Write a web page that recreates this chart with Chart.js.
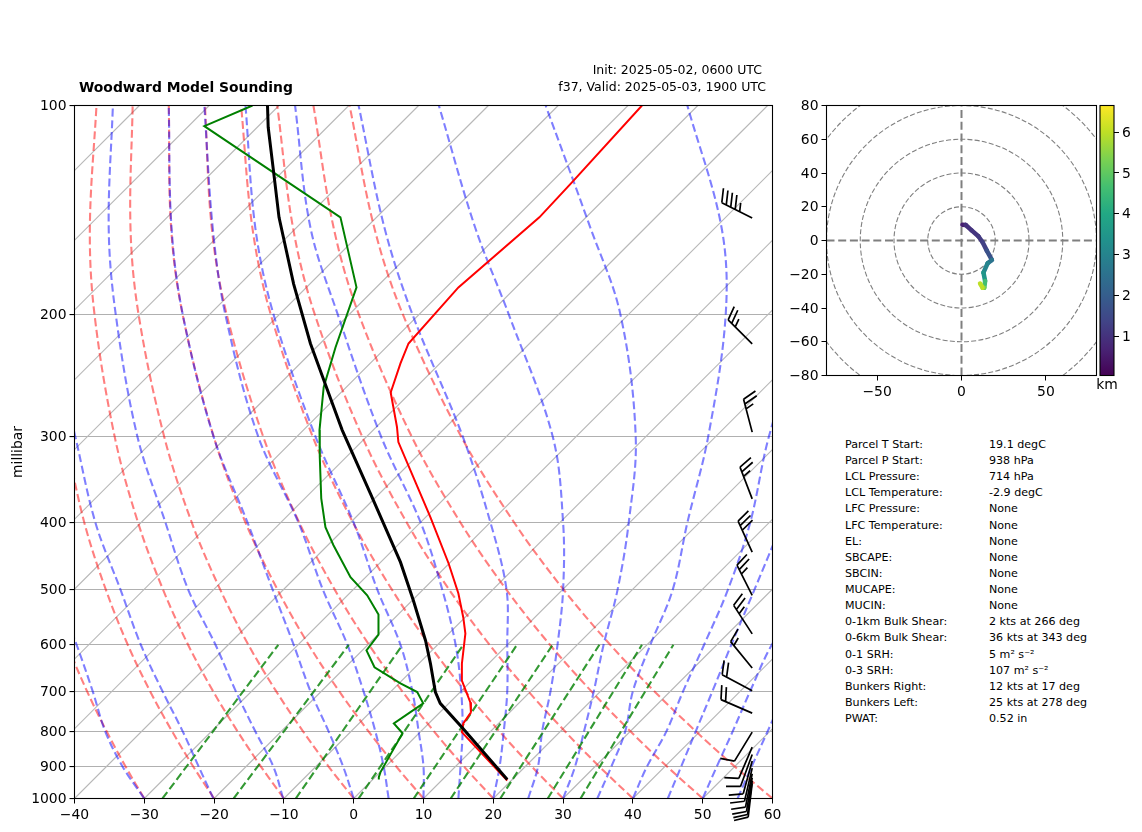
<!DOCTYPE html>
<html><head><meta charset="utf-8">
<script src="https://cdn.jsdelivr.net/npm/chart.js@4"></script>
<style>
html,body{margin:0;padding:0;background:#fff;width:1142px;height:832px;overflow:hidden;font-family:"DejaVu Sans",sans-serif;color:#000}
canvas{position:absolute}
.t{position:absolute;white-space:nowrap}
#title{left:79px;top:77px;line-height:20px;font-size:13.9px;font-weight:bold}
#init,#valid{line-height:18px;font-size:12.5px;text-align:right}
#init{top:61px;right:380px}#valid{top:78px;right:376px}
.row{position:absolute;font-size:11.1px;line-height:16px;white-space:nowrap}
</style></head><body>
<canvas id="skew" style="left:0;top:0;width:790px;height:832px"></canvas>
<canvas id="hodo" style="left:780px;top:0;width:320px;height:410px"></canvas>
<canvas id="cbar" style="left:1080px;top:0;width:62px;height:400px"></canvas>
<div class="t" id="title"></div><div class="t" id="init"></div><div class="t" id="valid"></div>
<div id="stats"></div>
<script>
// ---------- text ----------
const chartTitle = "Woodward Model Sounding";
const initText = "Init: 2025-05-02, 0600 UTC";
const validText = "f37, Valid: 2025-05-03, 1900 UTC";
const statLabels = ["Parcel T Start:","Parcel P Start:","LCL Pressure:","LCL Temperature:","LFC Pressure:","LFC Temperature:","EL:","SBCAPE:","SBCIN:","MUCAPE:","MUCIN:","0-1km Bulk Shear:","0-6km Bulk Shear:","0-1 SRH:","0-3 SRH:","Bunkers Right:","Bunkers Left:","PWAT:"];
const statValues = ["19.1 degC","938 hPa","714 hPa","-2.9 degC","None","None","None","None","None","None","None","2 kts at 266 deg","36 kts at 343 deg","5 m\u00B2 s\u207B\u00B2","107 m\u00B2 s\u207B\u00B2","12 kts at 17 deg","25 kts at 278 deg","0.52 in"];

// ---------- axes ----------
const xTicks = [-40,-30,-20,-10,0,10,20,30,40,50,60];
const pressureTicks = [100,200,300,400,500,600,700,800,900,1000];
const hodoXTicks = [-50,0,50];
const hodoYTicks = [-80,-60,-40,-20,0,20,40,60,80];
const colorbarTicks = [1,2,3,4,5,6];

// ---------- sounding (x on the skewed axis, pressure in hPa) ----------
const tempX = [41.3,31.3,26.6,15.0,7.85,6.7,5.3,6.2,6.4,11.0,13.6,15.0,15.7,16.0,15.5,15.5,16.7,16.8,15.7,15.5,18.2,22.0];
const tempP = [100,129,145,183,220.5,235.6,259.5,291,306,393,458,506,548,578,639,676,726,751,779,802,858,942];
const dewX = [-14.5,-21.4,-1.9,0.4,-2.6,-4.3,-4.9,-4.86,-4.65,-4.05,-2.9,-0.46,1.93,3.55,3.55,1.83,2.98,6.7,9.1,9.96,5.75,7.0,3.84,3.6,3.6];
const dewP = [100,107.1,145,183,223.3,255,294,321.7,369,406,431,479.5,509,542.6,580,611.5,646.6,682,702,729,779,805,916,931.6,939];
const parcelX = [-12.35,-12.25,-11.45,-10.7,-8.6,-6.2,-4.0,-1.65,2.4,6.7,8.55,10.3,11,11.7,12.4,15.5,22];
const parcelP = [100,107.5,125.3,145,181,220.5,253.6,294,363,456,518,592,639,702,729,789,939];

// ---------- background lines ----------
const isothermBottomX = [-130,-120,-110,-100,-90,-80,-70,-60,-50,-40,-30,-20,-10,0,10,20,30,40,50,60];
const isothermTopX = [-30.7,-20.7,-10.7,-0.7,9.3,19.3,29.3,39.3,49.3,59.3,69.3,79.3,89.3,99.3,109.3,119.3,129.3,139.3,149.3,159.3];
const levelP = [1000,900,800,700,600,500,400,300,200,150,100];
const dryAdiabats = [
 [-30,-32.67,-35.4,-38.21,-41.01,-43.7],
 [-20,-22.97,-26.02,-29.18,-32.37,-35.5,-38.59,-41.35],
 [-10,-13.27,-16.64,-20.15,-23.73,-27.3,-30.89,-34.26,-37.14,-37.8,-36.85],
 [0,-3.57,-7.26,-11.12,-15.09,-19.1,-23.19,-27.17,-30.83,-31.98,-31.67],
 [10,6.13,2.12,-2.09,-6.45,-10.9,-15.49,-20.08,-24.52,-26.16,-26.49],
 [20,15.83,11.5,6.94,2.19,-2.7,-7.79,-12.99,-18.21,-20.34,-21.31],
 [30,25.53,20.88,15.97,10.83,5.5,-0.09,-5.9,-11.9,-14.52,-16.13],
 [40,35.23,30.26,25,19.47,13.7,7.61,1.19,-5.59,-8.7,-10.95],
 [50,44.93,39.64,34.03,28.11,21.9,15.31,8.28,0.72,-2.88,-5.77],
 [60,54.63,49.02,43.06,36.75,30.1,23.01,15.37,7.03,2.94,-0.59]
];
const moistAdiabats = [
 [-30,-33.1,-35.6,-37.4,-39.7,-42.7],
 [-20.1,-22.2,-24.5,-27.4,-30.5,-33.4,-37,-39.9,-44],
 [-10.1,-11.5,-14.1,-16.9,-19.8,-23.7,-26.96,-31,-34.1,-35.1,-34.5],
 [0,-1.5,-3.6,-6.2,-8.6,-11.6,-15.2,-20.1,-24.5,-26.1,-26.5],
 [5,4.3,3.1,1.4,-0.9,-4.4,-7.9,-13.7,-18.4,-20.2,-21.4],
 [10,10,9.3,8.4,6.7,3.4,0,-5.5,-11.5,-14.1,-15.5],
 [15,15.3,15.6,15.4,14.6,12.7,9.6,3.9,-2.3,-6.2,-8.4],
 [20,20.9,21.5,22.0,22.0,21.9,19.6,15.6,8.4,4.4,0.7],
 [25,26.4,27,28.2,29.2,30,30,28.5,22.2,17.4,12.2],
 [30,31.7,33,34.4,35.8,37.8,39.4,40.4,38.2,33.9,27.5],
 [34.9,36.9,38.9,40,42.5,45.7,47.8,50.8,53.3,52.7,47.8],
 [40,42,44.8,47.2,50.2,53.6,56.8,59.5,65],
 [45,46.9,49,51.4,54.1,57.4,61.4],
 [50,52,54.3,56.8,59.9,65],
 [55,57,59.3,61.9]
];
const mixBottomX = [-27.4,-17.2,-8.3,0.7,8.6,13.9,21,27.8,32.5];
const mixTopX = [-10.8,-0.7,7,15.7,23.4,28.5,35.2,41.3,45.8];
const mixBottomP = 1000, mixTopP = 600;

// ---------- wind barbs ----------
const barbAxisX = 57.09;
const barbP = [145.3,220.8,296,369.5,441,509.4,578.7,648,698.8,753,802,843,864,883,904,921,934,943,951];
const barbDir = [296.7,315,345.3,339,335.5,333.4,327,320.7,298,293.4,211.4,203.2,200.1,195.3,193.1,191.4,189.7,187.9,186.8];
const barbKts = [45,25,25,25,30,25,25,15,20,20,10,10,10,10,10,10,10,10,10];

// ---------- hodograph ----------
const hodoU = [0.5,2.5,6,10,12.5,15,18,15.5,13,14,13.5,12.5,11];
const hodoV = [9.3,9.2,6,2.5,-1,-6,-11.5,-13.5,-19,-24,-28,-28,-25.5];
const hodoKm = [0.1,0.6,0.95,1.05,1.15,1.3,1.7,2.6,3,3.5,4.6,5.3,6.0];
const ringRadii = [20,40,60,80,100];
const colorbarRange = [0.04,6.65];
const viridisStops = ["#440154","#482475","#414487","#355f8d","#2a788e","#21918c","#22a884","#44bf70","#7ad151","#bddf26","#fde725"];

// ---------- page text ----------
document.getElementById('title').textContent = chartTitle;
document.getElementById('init').textContent = initText;
document.getElementById('valid').textContent = validText;
const statsEl = document.getElementById('stats');
statLabels.forEach((s,i)=>{
  const top = 437 + i*16.12;
  statsEl.insertAdjacentHTML('beforeend',
   `<div class="row" style="left:845px;top:${top}px">${s}</div><div class="row" style="left:989px;top:${top}px">${statValues[i]}</div>`);
});

// ---------- helpers ----------
Chart.defaults.font.family = '"DejaVu Sans", sans-serif';
Chart.defaults.font.size = 13.9;
Chart.defaults.color = '#000';
Chart.defaults.animation = false;
Chart.defaults.devicePixelRatio = 1;
const minus = v => String(v).replace('-', '\u2212');
const hexToRgb = h => [1,3,5].map(i=>parseInt(h.slice(i,i+2),16));
function viridis(t){
  t = Math.min(1,Math.max(0,t))*(viridisStops.length-1);
  const i = Math.min(Math.floor(t),viridisStops.length-2), f = t-i;
  const a = hexToRgb(viridisStops[i]), b = hexToRgb(viridisStops[i+1]);
  return `rgb(${a.map((v,k)=>Math.round(v+(b[k]-v)*f)).join(',')})`;
}
const kmColor = km => viridis((km-colorbarRange[0])/(colorbarRange[1]-colorbarRange[0]));
const pairs = (xs,ps) => xs.map((x,i)=>({x,y:ps[i]}));
const framePlugin = {id:'frame',afterDraw(c){
  const a=c.chartArea,g=c.ctx;g.save();g.strokeStyle='#000';g.lineWidth=1.1;
  g.strokeRect(a.left,a.top,a.right-a.left,a.bottom-a.top);g.restore();}};
const barbPlugin = {id:'barbs',afterDraw(c){
  const g=c.ctx,xs=c.scales.x,ys=c.scales.y;
  const staff=34,step=5,perp=13.6,along=5;
  g.save();g.strokeStyle='#000';g.lineWidth=1.7;g.lineCap='butt';
  barbP.forEach((p,i)=>{
    const tx=xs.getPixelForValue(barbAxisX),ty=ys.getPixelForValue(p);
    const a=barbDir[i]*Math.PI/180,dx=Math.sin(a),dy=-Math.cos(a);
    const hx=tx+dx*staff,hy=ty+dy*staff;
    g.beginPath();g.moveTo(tx,ty);g.lineTo(hx,hy);
    let kts=barbKts[i],s=0;
    const fe=(scale)=>{
      const bx=hx-dx*s,by=hy-dy*s;
      g.moveTo(bx,by);
      g.lineTo(bx+(-dy)*perp*scale+dx*along*scale,by+dx*perp*scale+dy*along*scale);
      s+=step;
    };
    while(kts>=10){fe(1);kts-=10;}
    if(kts>=5){fe(0.6);}
    g.stroke();
  });
  g.restore();}};
const ringPlugin = {id:'rings',beforeDatasetsDraw(c){
  const g=c.ctx,a=c.chartArea,xs=c.scales.x,ys=c.scales.y;
  g.save();g.beginPath();g.rect(a.left,a.top,a.right-a.left,a.bottom-a.top);g.clip();
  g.strokeStyle='#7f7f7f';g.lineWidth=1.1;g.setLineDash([5,2.2]);
  ringRadii.forEach(r=>{
    const R=xs.getPixelForValue(r)-xs.getPixelForValue(0);
    g.beginPath();g.arc(xs.getPixelForValue(0),ys.getPixelForValue(0),R,0,Math.PI*2);g.stroke();
  });
  g.restore();}};

// ---------- skew-T ----------
const sets = [];
const addLine = (data,color,width,dash,order,tension=0)=>sets.push({data,borderColor:color,borderWidth:width,borderDash:dash,order,tension,showLine:true,pointRadius:0,fill:false});
isothermBottomX.forEach((x,i)=>addLine([{x,y:1000},{x:isothermTopX[i],y:100}],'#b8b8b8',1.1,[],60));
dryAdiabats.forEach(a=>addLine(pairs(a,levelP),'rgba(255,0,0,0.5)',2.1,[8,3.7],50,0.35));
moistAdiabats.forEach(a=>addLine(pairs(a,levelP),'rgba(0,0,255,0.5)',2.1,[8,3.7],40,0.35));
mixBottomX.forEach((x,i)=>addLine([{x,y:mixBottomP},{x:mixTopX[i],y:mixTopP}],'rgba(0,128,0,0.8)',2.1,[8,3.7],30));
addLine(pairs(tempX,tempP),'#ff0000',2,[],3);
addLine(pairs(dewX,dewP),'#008000',2,[],2);
addLine(pairs(parcelX,parcelP),'#000',3,[],1);

new Chart(document.getElementById('skew'),{
  type:'scatter',
  data:{datasets:sets},
  plugins:[framePlugin,barbPlugin],
  options:{responsive:false,
    layout:{padding:{left:0,top:105.5,right:17.5,bottom:0}},
    plugins:{legend:{display:false},tooltip:{enabled:false}},
    scales:{
      x:{type:'linear',min:-40,max:60,
        afterBuildTicks:s=>{s.ticks=xTicks.map(value=>({value}));},
        afterFit:s=>{s.height=33.5;},
        grid:{drawOnChartArea:false,color:'#000',tickColor:'#000',tickLength:5,lineWidth:1},
        border:{display:false},
        ticks:{maxRotation:0,autoSkip:false,padding:3.5,callback:v=>minus(v),color:'#000'}},
      y:{type:'logarithmic',reverse:true,min:100,max:1000,
        afterBuildTicks:s=>{s.ticks=pressureTicks.map(value=>({value}));},
        afterFit:s=>{s.width=74.5;},
        grid:{color:'#b0b0b0',tickColor:'#000',tickLength:5,lineWidth:1.1},
        border:{display:false},
        title:{display:true,text:'millibar',color:'#000',font:{size:13.9},padding:{top:10,bottom:0}},
        ticks:{autoSkip:false,padding:3,labelOffset:1,callback:v=>String(v),color:'#000'}}
    }}
});

// ---------- hodograph ----------
const axisLine = (pts)=>({data:pts,borderColor:'#7f7f7f',borderWidth:2,borderDash:[8,3.7],showLine:true,pointRadius:0,order:5});
new Chart(document.getElementById('hodo'),{
  type:'scatter',
  data:{datasets:[
    axisLine([{x:-80,y:0},{x:80,y:0}]),
    axisLine([{x:0,y:-80},{x:0,y:80}]),
    {data:pairs(hodoU,hodoV),showLine:true,pointRadius:0,borderWidth:4.5,order:1,borderCapStyle:'round',borderJoinStyle:'round',
     borderColor:kmColor(hodoKm[3]),
     segment:{borderColor:c=>kmColor(hodoKm[c.p1DataIndex])}}
  ]},
  plugins:[ringPlugin,framePlugin],
  options:{responsive:false,
    layout:{padding:{left:0,top:105.5,right:3.5,bottom:0}},
    plugins:{legend:{display:false},tooltip:{enabled:false}},
    scales:{
      x:{type:'linear',min:-80,max:80,
        afterBuildTicks:s=>{s.ticks=hodoXTicks.map(value=>({value}));},
        afterFit:s=>{s.height=34.5;},
        grid:{drawOnChartArea:false,color:'#000',tickColor:'#000',tickLength:5},
        border:{display:false},
        ticks:{maxRotation:0,autoSkip:false,padding:3.5,callback:v=>minus(v),color:'#000'}},
      y:{type:'linear',min:-80,max:80,
        afterBuildTicks:s=>{s.ticks=hodoYTicks.map(value=>({value}));},
        afterFit:s=>{s.width=46.5;},
        grid:{drawOnChartArea:false,color:'#000',tickColor:'#000',tickLength:5},
        border:{display:false},
        ticks:{autoSkip:false,padding:3,labelOffset:1,callback:v=>minus(v),color:'#000'}}
    }}
});

// ---------- colour bar ----------
new Chart(document.getElementById('cbar'),{
  type:'bar',
  data:{labels:['km'],datasets:[{data:[colorbarRange],barPercentage:1,categoryPercentage:1,borderWidth:0,
    backgroundColor:c=>{
      const a=c.chart.chartArea; if(!a) return viridisStops[0];
      const g=c.chart.ctx.createLinearGradient(0,a.bottom,0,a.top);
      viridisStops.forEach((s,i)=>g.addColorStop(i/(viridisStops.length-1),s));
      return g;}}]},
  plugins:[framePlugin],
  options:{responsive:false,
    layout:{padding:{left:20,top:105.5,right:0,bottom:0}},
    plugins:{legend:{display:false},tooltip:{enabled:false}},
    scales:{
      x:{type:'category',grid:{display:false,drawTicks:false,tickLength:0},border:{display:false},
        afterFit:s=>{s.height=24.5;},
        ticks:{padding:2,maxRotation:0,color:'#000',font:{size:13.9}}},
      y:{type:'linear',position:'right',min:colorbarRange[0],max:colorbarRange[1],
        afterBuildTicks:s=>{s.ticks=colorbarTicks.map(value=>({value}));},
        afterFit:s=>{s.width=28;},
        grid:{drawOnChartArea:false,color:'#000',tickColor:'#000',tickLength:5},
        border:{display:false},
        ticks:{autoSkip:false,padding:3,labelOffset:1,color:'#000'}}
    }}
});
</script>
</body></html>
